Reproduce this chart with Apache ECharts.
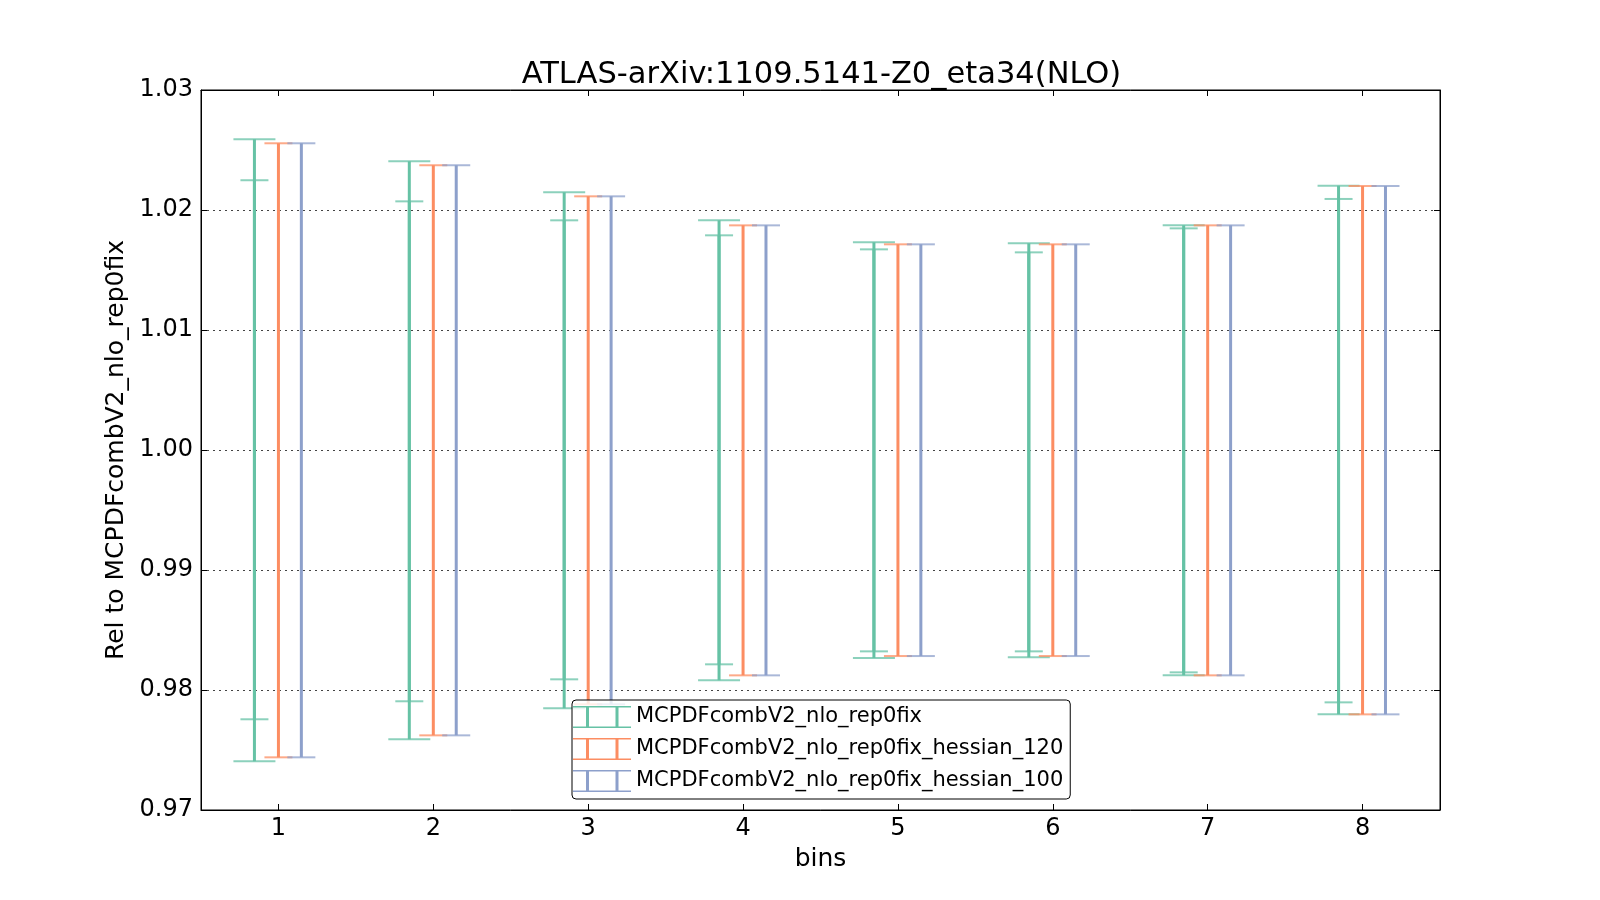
<!DOCTYPE html>
<html>
<head>
<meta charset="utf-8">
<script src="https://cdn.jsdelivr.net/npm/echarts@6/dist/echarts.min.js"></script>
<style>html,body{margin:0;padding:0;background:#fff;}#chart{width:1600px;height:900px;}</style>
</head>
<body>
<div id="chart"></div>
<script>
const bins = [1, 2, 3, 4, 5, 6, 7, 8];
const seriesNames = ['MCPDFcombV2_nlo_rep0fix', 'MCPDFcombV2_nlo_rep0fix_hessian_120', 'MCPDFcombV2_nlo_rep0fix_hessian_100'];
const repOuterHigh = [1.02589, 1.02406, 1.02148, 1.01914, 1.01731, 1.01722, 1.01872, 1.02203];
const repOuterLow  = [0.97406, 0.97589, 0.97847, 0.98081, 0.98267, 0.98272, 0.98122, 0.97797];
const repInnerHigh = [1.02248, 1.02072, 1.01914, 1.01789, 1.01672, 1.01647, 1.01847, 1.02092];
const repInnerLow  = [0.97756, 0.97906, 0.98089, 0.98214, 0.98322, 0.98322, 0.98147, 0.97897];
const hes120High = [1.02556, 1.02373, 1.02114, 1.01872, 1.01714, 1.01714, 1.01872, 1.02200];
const hes120Low  = [0.97439, 0.97622, 0.97881, 0.98122, 0.98283, 0.98283, 0.98122, 0.97797];
const hes100High = [1.02556, 1.02373, 1.02114, 1.01872, 1.01714, 1.01714, 1.01872, 1.02200];
const hes100Low  = [0.97439, 0.97622, 0.97881, 0.98122, 0.98283, 0.98283, 0.98122, 0.97797];

const colors = ['#66c2a5', '#fc8d62', '#8da0cb'];
const FONT = 'DejaVu Sans';

function makeRender(offset, capHalf, color) {
  return function (params, api) {
    const x = api.value(0) + offset;
    const lo = api.coord([x, api.value(1)]);
    const hi = api.coord([x, api.value(2)]);
    return {
      type: 'group',
      children: [
        { type: 'line', shape: { x1: hi[0], y1: hi[1], x2: lo[0], y2: lo[1] },
          style: { stroke: color, lineWidth: 3 } },
        { type: 'line', shape: { x1: hi[0] - capHalf, y1: hi[1], x2: hi[0] + capHalf, y2: hi[1] },
          style: { stroke: color, lineWidth: 2, opacity: 0.75 } },
        { type: 'line', shape: { x1: lo[0] - capHalf, y1: lo[1], x2: lo[0] + capHalf, y2: lo[1] },
          style: { stroke: color, lineWidth: 2, opacity: 0.75 } }
      ]
    };
  };
}

function mk(name, offset, capHalf, color, low, high, z) {
  return {
    type: 'custom', name: name, z: z,
    itemStyle: { color: color },
    renderItem: makeRender(offset, capHalf, color),
    encode: { x: 0, y: [1, 2] },
    data: bins.map((b, i) => [b, low[i], high[i]])
  };
}

const legendIcon = 'path://M0,0H58V1.5H0Z M0,20.5H58V22H0Z M13,0H16V22H13Z M42.5,0H45.5V22H42.5Z';

const chart = echarts.init(document.getElementById('chart'));
chart.setOption({
  animation: false,
  backgroundColor: '#fff',
  title: {
    text: 'ATLAS-arXiv:1109.5141-Z0_eta34(NLO)',
    left: 816.5, textAlign: 'center', top: 55,
    textStyle: { fontFamily: FONT, fontSize: 30.5, fontWeight: 'normal', color: '#000' }
  },
  grid: { left: 201, right: 160, top: 90, bottom: 90, show: true, borderColor: '#000', borderWidth: 1, backgroundColor: 'transparent' },
  legend: {
    left: 572, top: 700, orient: 'vertical',
    data: seriesNames,
    icon: legendIcon, itemWidth: 58, itemHeight: 22, itemGap: 10,
    padding: [6, 7, 7, 1],
    borderColor: '#000', borderWidth: 1, borderRadius: 4,
    backgroundColor: 'rgba(255,255,255,0.8)',
    textStyle: { fontFamily: FONT, fontSize: 21, color: '#000' },
    z: 10
  },
  xAxis: [
    {
      type: 'value', min: 0.5, max: 8.5, position: 'bottom',
      name: 'bins', nameLocation: 'middle', nameGap: 37,
      nameTextStyle: { fontFamily: FONT, fontSize: 25, color: '#000' },
      axisLine: { show: true, lineStyle: { color: '#000' } },
      axisTick: { show: true, inside: true, length: 6, customValues: bins, lineStyle: { color: '#000' } },
      axisLabel: { customValues: bins, fontFamily: FONT, fontSize: 24, color: '#000', margin: 7 },
      splitLine: { show: false }
    },
    {
      type: 'value', min: 0.5, max: 8.5, position: 'top',
      axisLine: { show: true, lineStyle: { color: '#000' } },
      axisTick: { show: true, inside: true, length: 6, customValues: bins, lineStyle: { color: '#000' } },
      axisLabel: { show: false },
      splitLine: { show: false }
    }
  ],
  yAxis: [
    {
      type: 'value', min: 0.97, max: 1.03, interval: 0.01, position: 'left',
      name: 'Rel to MCPDFcombV2_nlo_rep0fix', nameLocation: 'middle', nameGap: 72,
      nameTextStyle: { fontFamily: FONT, fontSize: 25, color: '#000' },
      axisLine: { show: true, lineStyle: { color: '#000' } },
      axisTick: { show: true, inside: true, length: 6, lineStyle: { color: '#000' } },
      axisLabel: { fontFamily: FONT, fontSize: 24, color: '#000', margin: 8, formatter: v => v.toFixed(2) },
      splitLine: { show: true, lineStyle: { color: '#444', width: 1, type: [2, 4] } }
    },
    {
      type: 'value', min: 0.97, max: 1.03, interval: 0.01, position: 'right',
      axisLine: { show: true, lineStyle: { color: '#000' } },
      axisTick: { show: true, inside: true, length: 6, lineStyle: { color: '#000' } },
      axisLabel: { show: false },
      splitLine: { show: false }
    }
  ],
  series: [
    mk(seriesNames[0], -0.155, 21, colors[0], repOuterLow, repOuterHigh, 2),
    mk(seriesNames[0], -0.155, 14, colors[0], repInnerLow, repInnerHigh, 2),
    mk(seriesNames[1], 0, 14, colors[1], hes120Low, hes120High, 3),
    mk(seriesNames[2], 0.148, 14, colors[2], hes100Low, hes100High, 4)
  ]
});
</script>
</body>
</html>
